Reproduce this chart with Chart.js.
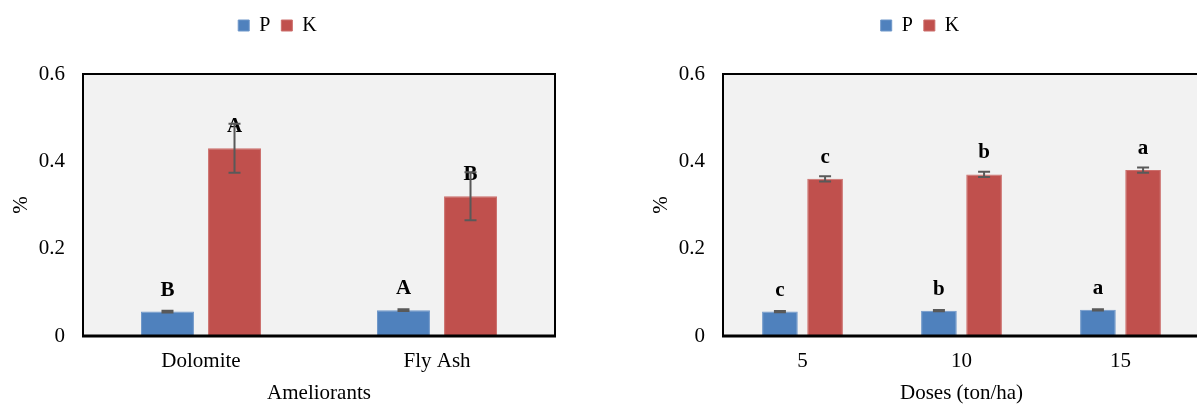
<!DOCTYPE html>
<html lang="en">
<head>
  <meta charset="UTF-8" />
  <title>P and K content</title>
  <script src="https://cdn.jsdelivr.net/npm/chart.js"></script>
  <style>
    body {
      margin: 0;
      padding: 0;
      background: white;
      width: 1197px;
      height: 406px;
      overflow: hidden;
      position: relative;
    }

    .panel {
      position: absolute;
      top: 0;
      height: 406px;
    }

    #leftPanel { left: 0; width: 566px; }
    #rightPanel { left: 640px; width: 570px; }
  </style>
</head>
<body>
  <div class="panel" id="leftPanel"><canvas id="amelChart" width="566" height="406"></canvas></div>
  <div class="panel" id="rightPanel"><canvas id="doseChart" width="570" height="406"></canvas></div>

  <script>
    // ameliorant chart
    const amelCategories = ['Dolomite', 'Fly Ash'];
    const amelP = [0.056, 0.059];
    const amelPErr = [0.002, 0.002];
    const amelPLetters = ['B', 'A'];
    const amelK = [0.43, 0.32];
    const amelKErr = [0.056, 0.055];
    const amelKLetters = ['A', 'B'];

    // dose chart
    const doseCategories = ['5', '10', '15'];
    const doseP = [0.056, 0.058, 0.060];
    const dosePErr = [0.0015, 0.0015, 0.0015];
    const dosePLetters = ['c', 'b', 'a'];
    const doseK = [0.36, 0.37, 0.38];
    const doseKErr = [0.006, 0.006, 0.006];
    const doseKLetters = ['c', 'b', 'a'];

    const yTicks = [0, 0.2, 0.4, 0.6];

    const FONT = "'Liberation Serif', 'Times New Roman', serif";
    Chart.defaults.font.family = FONT;
    Chart.defaults.font.size = 21;
    Chart.defaults.color = '#000';

    // plot background, letters, error bars and frame
    const barDecor = {
      id: 'barDecor',
      beforeDraw(chart) {
        const { ctx, chartArea: a } = chart;
        ctx.save();
        ctx.fillStyle = '#f2f2f2';
        ctx.fillRect(a.left, a.top, a.right - a.left, a.bottom - a.top);
        ctx.restore();
      },
      afterDatasetsDraw(chart) {
        const { ctx, chartArea: a, scales: { y } } = chart;
        ctx.save();

        ctx.font = 'bold 21px ' + FONT;
        ctx.fillStyle = '#000';
        ctx.textAlign = 'center';
        ctx.textBaseline = 'alphabetic';
        chart.data.datasets.forEach((ds, di) => {
          chart.getDatasetMeta(di).data.forEach((bar, i) => {
            ctx.fillText(ds.letters[i], bar.x, bar.y - 16);
          });
        });

        ctx.strokeStyle = '#595959';
        ctx.lineWidth = 2;
        chart.data.datasets.forEach((ds, di) => {
          chart.getDatasetMeta(di).data.forEach((bar, i) => {
            const hi = y.getPixelForValue(ds.data[i] + ds.errors[i]);
            const lo = y.getPixelForValue(ds.data[i] - ds.errors[i]);
            ctx.beginPath();
            ctx.moveTo(bar.x, hi);
            ctx.lineTo(bar.x, lo);
            ctx.moveTo(bar.x - 6, hi);
            ctx.lineTo(bar.x + 6, hi);
            ctx.moveTo(bar.x - 6, lo);
            ctx.lineTo(bar.x + 6, lo);
            ctx.stroke();
          });
        });

        ctx.strokeStyle = '#000';
        ctx.lineWidth = 2;
        ctx.strokeRect(a.left, a.top, a.right - a.left, a.bottom - a.top);
        ctx.lineWidth = 3;
        ctx.beginPath();
        ctx.moveTo(a.left - 1, a.bottom);
        ctx.lineTo(a.right + 1, a.bottom);
        ctx.stroke();
        ctx.restore();
      }
    };

    function makeChart(id, labels, pVals, pErr, pLetters, kVals, kErr, kLetters, xTitle, padRight) {
      return new Chart(document.getElementById(id), {
        type: 'bar',
        data: {
          labels,
          datasets: [
            {
              label: 'P', data: pVals, errors: pErr, letters: pLetters,
              backgroundColor: '#4f81bd', borderColor: '#6f97c9', borderWidth: 1,
              categoryPercentage: 0.568, barPercentage: 0.79
            },
            {
              label: 'K', data: kVals, errors: kErr, letters: kLetters,
              backgroundColor: '#c0504d', borderColor: '#cc6f6c', borderWidth: 1,
              categoryPercentage: 0.568, barPercentage: 0.79
            }
          ]
        },
        options: {
          responsive: false,
          animation: false,
          layout: { padding: { top: 4.5, right: padRight, bottom: 0, left: 0 } },
          plugins: {
            legend: {
              position: 'top',
              labels: {
                boxWidth: 11,
                boxHeight: 11,
                padding: 11,
                color: '#000',
                font: { size: 20 }
              }
            },
            subtitle: {
              display: true,
              text: '',
              weight: 500,
              font: { size: 10 },
              padding: { top: 0, bottom: 16.5 }
            },
            tooltip: { enabled: false }
          },
          scales: {
            x: {
              grid: { display: false, drawTicks: false },
              border: { display: false },
              ticks: { padding: 13, color: '#000' },
              title: { display: true, text: xTitle, color: '#000', padding: { top: 0, bottom: 0 } },
              afterFit(scale) { scale.height = 70; }
            },
            y: {
              min: 0,
              max: 0.6,
              grid: { display: false, drawTicks: false },
              border: { display: false },
              afterBuildTicks(scale) { scale.ticks = yTicks.map(v => ({ value: v })); },
              ticks: { padding: 18, color: '#000' },
              title: { display: true, text: '%', color: '#000', padding: { top: 9, bottom: 0 } },
              afterFit(scale) { scale.width = 83; }
            }
          }
        },
        plugins: [barDecor]
      });
    }

    makeChart('amelChart', amelCategories, amelP, amelPErr, amelPLetters,
      amelK, amelKErr, amelKLetters, 'Ameliorants', 11);
    makeChart('doseChart', doseCategories, doseP, dosePErr, dosePLetters,
      doseK, doseKErr, doseKLetters, 'Doses (ton/ha)', 10);
  </script>
</body>
</html>
